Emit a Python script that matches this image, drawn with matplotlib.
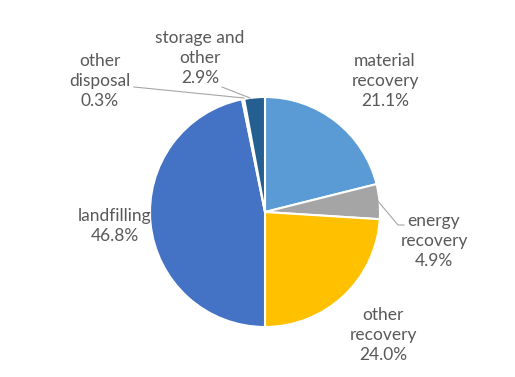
import matplotlib.pyplot as plt

labels = ['material\nrecovery', 'energy\nrecovery', 'other\nrecovery',
          'landfilling', 'other\ndisposal', 'storage and\nother']
values = [21.1, 4.9, 24.0, 46.8, 0.3, 2.9]
colors = ['#5B9BD5', '#A5A5A5', '#FFC000', '#4472C4', '#DDE6F3', '#255E91']

# label positions in pixels (x, y centre) and leader lines
cx, cy, r = 265, 212, 115
lab_px = [(385, 81), (434, 241), (383, 335), (115, 226), (100, 81), (200, 58)]
leaders = {1: [(377, 200), (398, 225), (404, 225)],
           4: [(134, 87), (244, 98)],
           5: [(222, 87), (250, 98)]}

W, H = 515, 377
fig = plt.figure(figsize=(W / 100, H / 100), dpi=100)
ax = fig.add_axes([0, 0, 1, 1])

ax.pie(values, colors=colors, startangle=90, counterclock=False, radius=1,
       wedgeprops=dict(edgecolor='white', linewidth=1.5))
ax.set_aspect('auto')
ax.set_xlim(-cx / r, (W - cx) / r)
ax.set_ylim(-(H - cy) / r, cy / r)
ax.axis('off')

def p2d(px, py):
    return (px - cx) / r, (cy - py) / r

for i, (lab, v) in enumerate(zip(labels, values)):
    x, y = p2d(*lab_px[i])
    ax.text(x, y, '{}\n{:.1f}%'.format(lab, v), ha='center', va='center',
            fontsize=12.5, color='#595959', family='Lato', linespacing=1.3)

for k, pts in leaders.items():
    xs = [p2d(*p)[0] for p in pts]
    ys = [p2d(*p)[1] for p in pts]
    ax.plot(xs, ys, color='#A6A6A6', linewidth=0.8)

fig.savefig('out.png', dpi=100)
